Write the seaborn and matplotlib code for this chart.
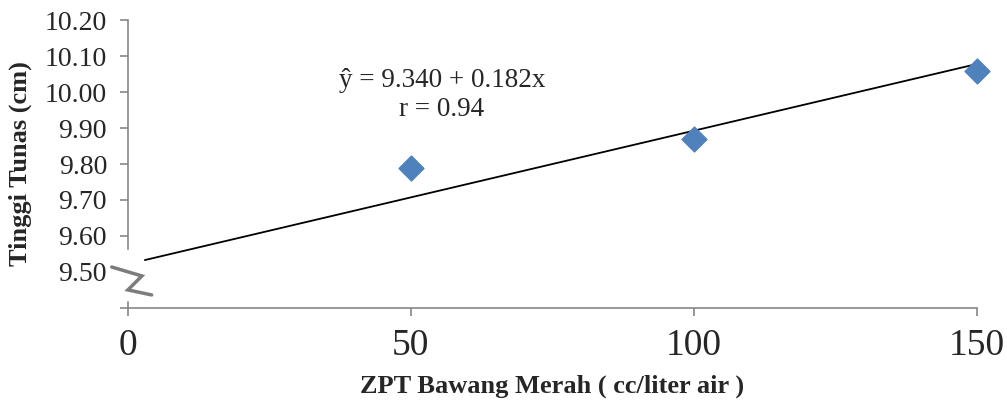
import pandas as pd
import seaborn as sns
import matplotlib.pyplot as plt

# data
dose = [50, 100, 150]
height = [9.79, 9.87, 10.06]
# regression line as drawn (start and end)
fit_x = [3, 150]
fit_y = [9.533, 10.078]
y_ticks = [9.50, 9.60, 9.70, 9.80, 9.90, 10.00, 10.10, 10.20]
x_ticks = [0, 50, 100, 150]

df = pd.DataFrame({'dose': dose, 'height': height})
fit = pd.DataFrame({'x': fit_x, 'y': fit_y})

sns.set_style('white')
plt.rcParams['font.family'] = ['Liberation Serif', 'DejaVu Serif']

fig = plt.figure(figsize=(10.07, 4.03), dpi=100)
ax = fig.add_axes([0.127, 0.236, 0.843, 0.714])

sns.lineplot(x='x', y='y', data=fit, color='black', linewidth=1.3, ax=ax, zorder=3)
sns.scatterplot(x='dose', y='height', data=df, marker='D', s=160,
                color='#4F81BD', edgecolor='#4F81BD', zorder=4, clip_on=False, ax=ax)

ax.set_xlim(0, 150)
ax.set_ylim(9.40, 10.20)
ax.set_xticks(x_ticks)
ax.set_xticklabels([str(v) for v in x_ticks], fontsize=27)
ax.set_yticks([9.40] + y_ticks)
ax.set_yticklabels([''] + ['%.2f' % v for v in y_ticks], fontsize=20)
ax.tick_params(axis='both', direction='out', length=6, color='#868686', width=1.2,
               left=True, bottom=True)
ax.tick_params(axis='x', pad=9)
ax.tick_params(axis='y', pad=9)
for s in ['top', 'right']:
    ax.spines[s].set_visible(False)
for s in ['left', 'bottom']:
    ax.spines[s].set_color('#868686')
    ax.spines[s].set_linewidth(1.2)

ax.set_xlabel('ZPT Bawang Merah ( cc/liter air )', fontsize=19, fontweight='bold', labelpad=8)
ax.set_ylabel('Tinggi Tunas (cm)', fontsize=19, fontweight='bold', labelpad=9)

ax.text(0.37, 0.792, 'ŷ = 9.340 + 0.182x', transform=ax.transAxes,
        fontsize=19.5, ha='center', va='center')
ax.text(0.37, 0.688, 'r = 0.94', transform=ax.transAxes,
        fontsize=19.5, ha='center', va='center')

# axis break mark
ax.fill([-0.012, 0.03, 0.03, -0.012], [0.028, 0.028, 0.2, 0.2], transform=ax.transAxes,
        color='white', clip_on=False, zorder=2.7)
ax.plot([-0.019, 0.0165, 0.0, 0.028], [0.142, 0.111, 0.0625, 0.045], transform=ax.transAxes,
        color='#444444', linewidth=2.5, alpha=0.7, clip_on=False, zorder=5,
        solid_joinstyle='miter')

fig.savefig('out.png', dpi=100)
